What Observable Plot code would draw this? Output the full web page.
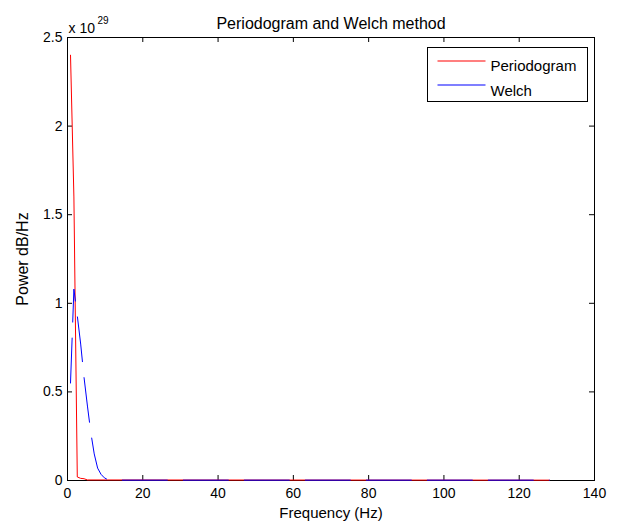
<!DOCTYPE html>
<html>
<head>
<meta charset="utf-8">
<script src="https://cdn.jsdelivr.net/npm/d3@7"></script>
<script src="https://cdn.jsdelivr.net/npm/@observablehq/plot@0.6"></script>
<style>
  html, body { margin: 0; padding: 0; background: #ffffff; }
  #chart { width: 618px; height: 529px; }
</style>
</head>
<body>
<div id="chart"></div>
<script>
// ---- data (power in units of W/Hz, axis shown as x 10^29) ----
const periodogramFreq  = [0.8, 1.7, 2.6, 3.5, 4.4, 5.3, 128];
const periodogramPower = [2.40e29, 1.60e29, 0.02e29, 0.012e29, 0.010e29, 0.003e29, 0.002e29];

const welchFreq  = [0.8, 1.7, 2.6, 3.5, 4.4, 5.3, 6.2, 7.1, 8.0, 8.9, 9.8, 10.7, 11.6, 128];
const welchPower = [0.55e29, 1.08e29, 0.93e29, 0.77e29, 0.58e29, 0.42e29, 0.27e29, 0.15e29,
                    0.07e29, 0.035e29, 0.015e29, 0.005e29, 0.002e29, 0.002e29];

const xTicks = [0, 20, 40, 60, 80, 100, 120, 140];
const yTicks = [0, 0.5e29, 1e29, 1.5e29, 2e29, 2.5e29];
const exponentLabel = "29";
const titleText = "Periodogram and Welch method";
const xLabel = "Frequency (Hz)";
const yLabel = "Power dB/Hz";
const seriesNames = ["Periodogram", "Welch"];
const seriesColors = ["#ff0000", "#0000ff"];

// ---- tables ----
const periodogram = periodogramFreq.map((f, i) => ({f, p: periodogramPower[i]}));
const welch = welchFreq.map((f, i) => ({f, p: welchPower[i]}));

const W = 618, H = 529;
const mL = 67, mR = 24, mT = 37, mB = 49;
const fw = W - mL - mR, fh = H - mT - mB;
const tick = 5;
const fmt = d => `${+(d / 1e29).toFixed(2)}`;

const chart = Plot.plot({
  width: W,
  height: H,
  marginLeft: mL,
  marginRight: mR,
  marginTop: mT,
  marginBottom: mB,
  style: {fontFamily: "'Liberation Sans', Arial, Helvetica, sans-serif", fontSize: "14px", color: "#000", background: "#fff"},
  x: {domain: [0, 140], ticks: xTicks, label: null},
  y: {domain: [0, 2.5e29], ticks: yTicks, label: null, tickFormat: fmt},
  marks: [
    Plot.frame({stroke: "#000", strokeWidth: 1}),
    // inward ticks on four sides
    Plot.tickX(xTicks, {x: d => d, insetTop: fh - tick, stroke: "#000"}),
    Plot.tickX(xTicks, {x: d => d, insetBottom: fh - tick, stroke: "#000"}),
    Plot.tickY(yTicks, {y: d => d, insetRight: fw - tick, stroke: "#000"}),
    Plot.tickY(yTicks, {y: d => d, insetLeft: fw - tick, stroke: "#000"}),
    Plot.axisX(xTicks, {tickSize: 0, tickPadding: 8, fontSize: 14, label: null}),
    Plot.axisY(yTicks, {tickSize: 0, tickPadding: 5, fontSize: 14, label: null, tickFormat: fmt}),
    // data
    Plot.line(periodogram, {x: "f", y: "p", stroke: seriesColors[0], strokeWidth: 1}),
    Plot.line(welch, {x: "f", y: "p", stroke: seriesColors[1], strokeWidth: 1, strokeDasharray: "45,16"}),
    // titles
    Plot.text([titleText], {frameAnchor: "top", textAnchor: "middle", dy: -20, fontSize: 16, fill: "#000"}),
    Plot.text([xLabel], {frameAnchor: "bottom", textAnchor: "middle", dy: 37, fontSize: 15, fill: "#000"}),
    Plot.text([yLabel], {frameAnchor: "left", textAnchor: "middle", dx: -45, rotate: -90, fontSize: 16, fill: "#000"}),
    Plot.text(["x 10"], {frameAnchor: "top-left", dx: 1, dy: -14, textAnchor: "start", fontSize: 14, fill: "#000"}),
    Plot.text([exponentLabel], {frameAnchor: "top-left", dx: 30, dy: -21, textAnchor: "start", fontSize: 10, fill: "#000"}),
    // legend
    Plot.frame({fill: "#fff", stroke: "#000", insetLeft: 360, insetRight: 7, insetTop: 10, insetBottom: fh - 64}),
    Plot.frame({fill: seriesColors[0], stroke: "none", insetLeft: 370, insetRight: fw - 418, insetTop: 23, insetBottom: fh - 24}),
    Plot.frame({fill: seriesColors[1], stroke: "none", insetLeft: 370, insetRight: fw - 418, insetTop: 47, insetBottom: fh - 48}),
    Plot.text([seriesNames[0]], {frameAnchor: "top-left", dx: 423, dy: 23, textAnchor: "start", fontSize: 15, fill: "#000"}),
    Plot.text([seriesNames[1]], {frameAnchor: "top-left", dx: 423, dy: 48, textAnchor: "start", fontSize: 15, fill: "#000"})
  ]
});
document.getElementById("chart").appendChild(chart);
</script>
</body>
</html>
